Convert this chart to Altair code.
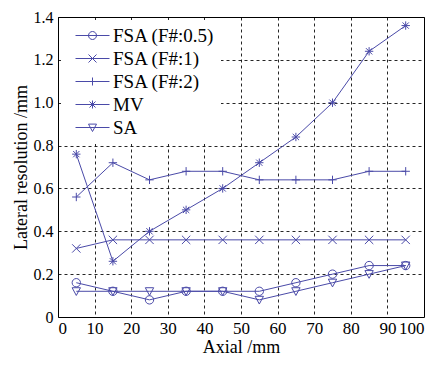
import re
import altair as alt
import pandas as pd

axial = [5, 15, 25, 35, 45, 55, 65, 75, 85, 95]
fsa05 = [0.16, 0.12, 0.08, 0.12, 0.12, 0.12, 0.16, 0.20, 0.24, 0.24]
fsa1 = [0.32, 0.36, 0.36, 0.36, 0.36, 0.36, 0.36, 0.36, 0.36, 0.36]
fsa2 = [0.56, 0.72, 0.64, 0.68, 0.68, 0.64, 0.64, 0.64, 0.68, 0.68]
mv = [0.76, 0.26, 0.40, 0.50, 0.60, 0.72, 0.84, 1.00, 1.24, 1.36]
sa = [0.12, 0.12, 0.12, 0.12, 0.12, 0.08, 0.12, 0.16, 0.20, 0.24]

series_names = ["FSA (F#:0.5)", "FSA (F#:1)", "FSA (F#:2)", "MV", "SA"]
series_vals = [fsa05, fsa1, fsa2, mv, sa]
x_ticks = [0, 10, 20, 30, 40, 50, 60, 70, 80, 90, 100]
y_ticks = [0, 0.2, 0.4, 0.6, 0.8, 1.0, 1.2, 1.4]

rows = []
for name, vals in zip(series_names, series_vals):
    for x, y in zip(axial, vals):
        rows.append({"Axial": x, "Res": y, "Series": name})
df = pd.DataFrame(rows)

color = "#4a4aa8"
circle = "M1,0A1,1 0 1,1 -1,0A1,1 0 1,1 1,0Z"
xmark = "M-1,-1L1,1M-1,1L1,-1"
plus = "M0,-1L0,1M-1,0L1,0"
star = "M0,-1L0,1M-1,0L1,0M-0.75,-0.75L0.75,0.75M-0.75,0.75L0.75,-0.75"
tri = "M-1,-0.85L1,-0.85L0,1Z"
shapes = [circle, xmark, plus, star, tri]


def shifted(path, dx):
    out = []
    tokens = re.findall(r"[MLAZ]|-?\d*\.?\d+", path)
    i = 0
    while i < len(tokens):
        t = tokens[i]
        out.append(t)
        i += 1
        if t == "Z":
            continue
        if t == "A":
            a = tokens[i:i + 7]
            a[5] = str(float(a[5]) + dx)
            out.append(" ".join(a))
            i += 7
        else:
            out.append(f"{float(tokens[i]) + dx},{tokens[i + 1]}")
            i += 2
    return "".join(out)


legend_shapes = ["M-0.25,0L8.25,0" + shifted(p, 4) for p in shapes]
font = "Liberation Serif"

x_enc = alt.X(
    "Axial:Q",
    scale=alt.Scale(domain=[0, 100], nice=False),
    axis=alt.Axis(
        values=x_ticks,
        title="Axial /mm",
        gridDash=[3, 3],
        gridColor="#000",
        gridOpacity=0.85,
        ticks=False,
        labelPadding=3,
        labelOverlap=False,
        labelFontSize=17,
        titlePadding=2,
    ),
)
y_enc = alt.Y(
    "Res:Q",
    scale=alt.Scale(domain=[0, 1.4], nice=False),
    axis=alt.Axis(
        values=y_ticks,
        labelExpr="datum.value == 0 ? '0' : format(datum.value, '.1f')",
        title="Lateral resolution /mm",
        gridDash=[3, 3],
        gridColor="#000",
        gridOpacity=0.85,
        ticks=False,
        labelPadding=5,
        labelOverlap=False,
        labelFontSize=16,
        titlePadding=3,
    ),
)

base = alt.Chart(df)
lines = base.mark_line(color=color, strokeWidth=1).encode(
    x=x_enc, y=y_enc, detail="Series:N"
)
points = base.mark_point(color=color, filled=False, size=70, strokeWidth=1, opacity=1).encode(
    x=x_enc,
    y=y_enc,
    shape=alt.Shape(
        "Series:N",
        scale=alt.Scale(domain=series_names, range=shapes),
        sort=series_names,
        legend=None,
    ),
)
legend_layer = base.mark_point(color=color, filled=False, size=64, strokeWidth=1, opacity=0).encode(
    x=x_enc,
    y=y_enc,
    shape=alt.Shape(
        "Series:N",
        scale=alt.Scale(domain=series_names, range=legend_shapes),
        sort=series_names,
        legend=alt.Legend(
            title=None,
            orient="top-left",
            offset=3,
            fillColor="white",
            labelFont=font,
            labelFontSize=19,
            labelColor="#000",
            symbolStrokeColor=color,
            symbolFillColor="transparent",
            symbolOpacity=1,
            symbolSize=64,
            symbolStrokeWidth=1,
            rowPadding=3,
            padding=6,
            labelOffset=27,
            labelLimit=300,
        ),
    ),
)

chart = (
    alt.layer(lines, points, legend_layer)
    .resolve_scale(shape="independent")
    .properties(
        width=366,
        height=300,
        autosize=alt.AutoSizeParams(type="none"),
        padding={"left": 50, "top": 9, "right": 12, "bottom": 46},
    )
    .configure_view(stroke="#000", strokeWidth=1)
    .configure_axis(
        labelFont=font,
        titleFont=font,
        labelColor="#000",
        titleColor="#000",
        titleFontWeight="normal",
        titleFontSize=18,
        domain=False,
    )
)
chart.save("out.html", embed_options={"renderer": "svg", "actions": False})
